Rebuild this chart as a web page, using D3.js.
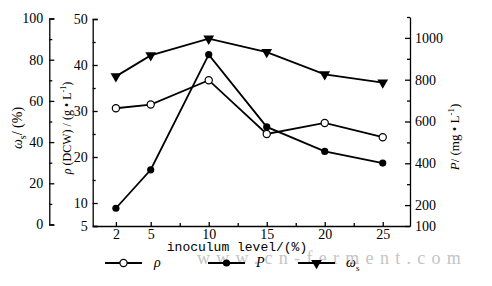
<!DOCTYPE html>
<html>
<head>
<meta charset="utf-8">
<script src="https://cdn.jsdelivr.net/npm/d3@7"></script>
<style>
  body { margin: 0; background: #fff; }
  svg { display: block; }
  .axis text { font-family: "Liberation Serif", serif; font-size: 14px; fill: #000; }
  .axis path, .axis line { stroke: #000; stroke-width: 1.3; }
</style>
</head>
<body>
<svg width="492" height="286"></svg>
<script>
// inoculum level (%)
const levels = [2, 5, 10, 15, 20, 25];
// rho(DCW) g/L  (open circles)
const rhoDCW = [30.6, 31.4, 36.7, 25.0, 27.4, 24.3];
// P mg/L  (filled circles)
const prodP = [185, 369, 920, 574, 457, 401];
// omega_s %  (triangles)
const omegaS = [71.9, 82.1, 90.2, 83.7, 72.9, 68.9];

const xTicks = [2, 5, 10, 15, 20, 25];
const xMinor = [7.5, 12.5, 17.5, 22.5];
const omegaTicks = [0, 20, 40, 60, 80, 100];
const rhoTicks = [5, 10, 20, 30, 40, 50];
const pTicks = [100, 200, 400, 600, 800, 1000];

const svg = d3.select('svg');

const x = d3.scaleLinear().domain([0, 27.35]).range([92.7, 410]);
const yOmega = d3.scaleLinear().domain([0, 100]).range([224.5, 18.5]);
const yRho = d3.scaleLinear().domain([5, 50]).range([226, 19]);
const yP = d3.scaleLinear().domain([100, 1100]).range([226, 17]);

// omega axis (far left)
svg.append('g').attr('class', 'axis').attr('transform', 'translate(49.3,0)')
    .call(d3.axisLeft(yOmega).tickValues(d3.range(10, 100, 20)).tickSize(-3).tickFormat(''))
    .select('.domain').remove();
svg.append('g').attr('class', 'axis').attr('transform', 'translate(49.3,0)')
    .call(d3.axisLeft(yOmega).tickValues(omegaTicks).tickSizeInner(-5).tickSizeOuter(-5).tickPadding(6));

// rho axis
svg.append('g').attr('class', 'axis').attr('transform', 'translate(92.7,0)')
    .call(d3.axisLeft(yRho).tickValues([15, 25, 35, 45]).tickSize(-3).tickFormat(''))
    .select('.domain').remove();
svg.append('g').attr('class', 'axis').attr('transform', 'translate(92.7,0)')
    .call(d3.axisLeft(yRho).tickValues(rhoTicks).tickSizeInner(-5).tickSizeOuter(-5).tickPadding(5));

// P axis (right)
svg.append('g').attr('class', 'axis').attr('transform', 'translate(410,0)')
    .call(d3.axisRight(yP).tickValues([300, 500, 700, 900, 1100]).tickSize(-3).tickFormat(''))
    .select('.domain').remove();
svg.append('g').attr('class', 'axis').attr('transform', 'translate(410,0)')
    .call(d3.axisRight(yP).tickValues(pTicks).tickFormat(d3.format('d'))
        .tickSizeInner(-5).tickSizeOuter(0).tickPadding(5));

// x axis
svg.append('g').attr('class', 'axis').attr('transform', 'translate(0,226)')
    .call(d3.axisBottom(x).tickValues(xMinor).tickSize(-3).tickFormat(''))
    .select('.domain').remove();
svg.append('g').attr('class', 'axis').attr('transform', 'translate(0,226)')
    .call(d3.axisBottom(x).tickValues(xTicks).tickSizeInner(-4).tickSizeOuter(0).tickPadding(3));

// axis titles
const serif = '"Liberation Serif", serif';
const t1 = svg.append('text').attr('transform', 'translate(22,128) rotate(-90)')
    .attr('text-anchor', 'middle').style('font-family', serif).style('font-size', '14px');
t1.append('tspan').style('font-style', 'italic').text('ω');
t1.append('tspan').attr('dy', 4).style('font-size', '10px').text('s');
t1.append('tspan').attr('dy', -4).text('/ (%)');

const t2 = svg.append('text').attr('transform', 'translate(71,128) rotate(-90)')
    .attr('text-anchor', 'middle').style('font-family', serif).style('font-size', '12px');
t2.append('tspan').style('font-style', 'italic').text('ρ');
t2.append('tspan').text(' (DCW) / (g • L');
t2.append('tspan').attr('dy', -5).style('font-size', '8px').text('-1');
t2.append('tspan').attr('dy', 5).text(')');

const t3 = svg.append('text').attr('transform', 'translate(459,137) rotate(-90)')
    .attr('text-anchor', 'middle').style('font-family', serif).style('font-size', '13px');
t3.append('tspan').style('font-style', 'italic').text('P');
t3.append('tspan').text('/ (mg • L');
t3.append('tspan').attr('dy', -5).style('font-size', '9px').text('-1');
t3.append('tspan').attr('dy', 5).text(')');

svg.append('text').attr('x', 237).attr('y', 251).attr('text-anchor', 'middle')
    .style('font-family', '"Liberation Mono", monospace').style('font-size', '13px')
    .text('inoculum level/(%)');

// watermark
svg.append('text').attr('x', 197).attr('y', 264)
    .style('font-family', serif).style('font-size', '18px').style('fill', '#c4c4c4')
    .style('letter-spacing', '6.3px').text('www.cn-ferment.com');

// series
const series = [
    { name: 'rho', values: rhoDCW, y: yRho, marker: 'open' },
    { name: 'P', values: prodP, y: yP, marker: 'filled' },
    { name: 'omega', values: omegaS, y: yOmega, marker: 'tri' }
];

const triangle = d3.symbol().type(d3.symbolTriangle).size(50);

function drawMarker(g, kind, px, py) {
    if (kind === 'open') {
        g.append('circle').attr('cx', px).attr('cy', py).attr('r', 3.6)
            .attr('fill', '#fff').attr('stroke', '#000').attr('stroke-width', 1.2);
    } else if (kind === 'filled') {
        g.append('circle').attr('cx', px).attr('cy', py).attr('r', 3.6).attr('fill', '#000');
    } else {
        g.append('path').attr('d', triangle)
            .attr('transform', `translate(${px},${py}) rotate(180)`).attr('fill', '#000');
    }
}

series.forEach(s => {
    const line = d3.line().x((d, i) => x(levels[i])).y(d => s.y(d));
    svg.append('path').datum(s.values).attr('d', line)
        .attr('fill', 'none').attr('stroke', '#000').attr('stroke-width', 1.8);
});
series.forEach(s => {
    const g = svg.append('g');
    s.values.forEach((v, i) => drawMarker(g, s.marker, x(levels[i]), s.y(v)));
});

// legend
const legend = [
    { x1: 105, x2: 142, label: 'ρ', sub: '', marker: 'open', lx: 154 },
    { x1: 208, x2: 245, label: 'P', sub: '', marker: 'filled', lx: 256 },
    { x1: 298, x2: 335, label: 'ω', sub: 's', marker: 'tri', lx: 346 }
];
legend.forEach(l => {
    const g = svg.append('g');
    g.append('line').attr('x1', l.x1).attr('x2', l.x2).attr('y1', 263).attr('y2', 263)
        .attr('stroke', '#000').attr('stroke-width', 1.8);
    drawMarker(g, l.marker, (l.x1 + l.x2) / 2, 263);
    const t = g.append('text').attr('x', l.lx).attr('y', 267)
        .style('font-family', serif).style('font-size', '14px');
    t.append('tspan').style('font-style', 'italic').text(l.label);
    if (l.sub) t.append('tspan').attr('dy', 4).style('font-size', '9px').text(l.sub);
});
</script>
</body>
</html>
